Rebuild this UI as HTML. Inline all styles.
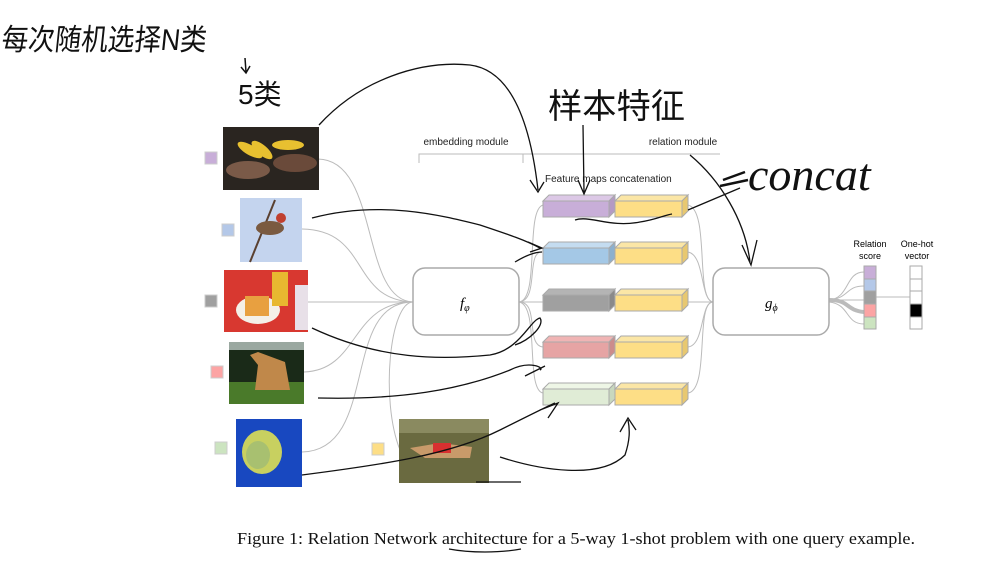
<!DOCTYPE html>
<html><head><meta charset="utf-8"><style>
html,body{margin:0;padding:0;background:#fff}
svg{display:block}
</style></head><body>
<svg width="982" height="571" viewBox="0 0 982 571" xmlns="http://www.w3.org/2000/svg" font-family="Liberation Sans, sans-serif">
<rect width="982" height="571" fill="#fff"/>
<!-- handwriting -->
<text x="6" y="50" font-family="Liberation Sans, Noto Sans CJK SC, sans-serif" font-size="30" fill="#111" textLength="205" lengthAdjust="spacingAndGlyphs" transform="skewX(-6)">每次随机选择N类</text>
<text x="238" y="104" font-family="Liberation Sans, Noto Sans CJK SC, sans-serif" font-size="28" fill="#111">5类</text>
<path d="M245 58 L246 72 M241 67 L246 73 L250 66" stroke="#111" fill="none" stroke-width="1.5"/>
<text x="548" y="118" font-family="Liberation Sans, Noto Sans CJK SC, sans-serif" font-size="34" fill="#111" textLength="137" lengthAdjust="spacingAndGlyphs">样本特征</text>
<text x="748" y="190" font-family="Liberation Serif, serif" font-style="italic" font-size="46" fill="#111">concat</text>
<path d="M723 180 L745 172 M720 186 L748 180" stroke="#111" stroke-width="2.5" fill="none"/>
<!-- headers -->
<text x="466" y="145" font-size="10" text-anchor="middle" fill="#222">embedding module</text>
<text x="683" y="145" font-size="10" text-anchor="middle" fill="#222">relation module</text>
<path d="M419 163 V154 H523 V163" stroke="#bbb" fill="none"/>
<path d="M523 163 V154 H720" stroke="#bbb" fill="none"/>
<text x="545" y="182" font-size="10" fill="#222">Feature maps concatenation</text>
<!-- gray connectors -->
<g stroke="#bbb" fill="none" stroke-width="1">
<path d="M318 159 C380 160 360 300 413 302"/>
<path d="M302 229 C370 230 350 300 413 302"/>
<path d="M308 302 H413"/>
<path d="M304 372 C360 370 350 302 413 302"/>
<path d="M302 452 C380 450 340 302 413 302"/>
<path d="M400 450 C380 400 390 302 413 302"/>
<path d="M519 302 H543"/>
<path d="M519 302 C540 300 525 210 543 205"/>
<path d="M519 302 C540 300 525 250 543 252"/>
<path d="M519 302 C540 302 525 345 543 347"/>
<path d="M519 302 C540 305 525 390 543 393"/>
<path d="M688 205 C710 210 695 300 713 302"/>
<path d="M688 252 C705 255 700 300 713 302"/>
<path d="M688 302 H713"/>
<path d="M688 347 C705 345 700 302 713 302"/>
<path d="M688 393 C710 390 695 302 713 302"/>
<path d="M829 300 C850 298 845 272 864 272"/>
<path d="M829 300 C850 298 845 286 864 286"/>
<path d="M829 300 H864"/>
<path d="M829 302 C850 304 845 324 864 324"/>
<path d="M876 297 H910"/>
</g>
<path d="M829 300 C850 300 845 310 864 312" stroke="#bbb" stroke-width="4" fill="none"/>
<!-- boxes -->
<rect x="413" y="268" width="106" height="67" rx="12" fill="#fff" stroke="#aaa" stroke-width="1.5"/>
<text x="460" y="308" font-family="Liberation Serif, serif" font-style="italic" font-size="15">f<tspan font-size="10" dy="3">φ</tspan></text>
<rect x="713" y="268" width="116" height="67" rx="12" fill="#fff" stroke="#aaa" stroke-width="1.5"/>
<text x="765" y="308" font-family="Liberation Serif, serif" font-style="italic" font-size="15">g<tspan font-size="10" dy="3">ϕ</tspan></text>
<!-- feature blocks -->
<g stroke="#aaa" stroke-width="1">
<polygon points="543,201 549,195 615,195 609,201" fill="#dcc8e6"/><rect x="543" y="201" width="66" height="16" fill="#c8aed8"/><polygon points="609,201 615,195 615,211 609,217" fill="#b49ac4"/>
<polygon points="615,201 621,195 688,195 682,201" fill="#fbe6a6"/><rect x="615" y="201" width="67" height="16" fill="#fdde86"/><polygon points="682,201 688,195 688,211 682,217" fill="#e8c870"/>
<polygon points="543,248 549,242 615,242 609,248" fill="#c4dcf0"/><rect x="543" y="248" width="66" height="16" fill="#a4c8e6"/><polygon points="609,248 615,242 615,258 609,264" fill="#8cb0ce"/>
<polygon points="615,248 621,242 688,242 682,248" fill="#fbe6a6"/><rect x="615" y="248" width="67" height="16" fill="#fdde86"/><polygon points="682,248 688,242 688,258 682,264" fill="#e8c870"/>
<polygon points="543,295 549,289 615,289 609,295" fill="#b4b4b4"/><rect x="543" y="295" width="66" height="16" fill="#a0a0a0"/><polygon points="609,295 615,289 615,305 609,311" fill="#8a8a8a"/>
<polygon points="615,295 621,289 688,289 682,295" fill="#fbe6a6"/><rect x="615" y="295" width="67" height="16" fill="#fdde86"/><polygon points="682,295 688,289 688,305 682,311" fill="#e8c870"/>
<polygon points="543,342 549,336 615,336 609,342" fill="#f0b4b4"/><rect x="543" y="342" width="66" height="16" fill="#e6a4a4"/><polygon points="609,342 615,336 615,352 609,358" fill="#cc8c8c"/>
<polygon points="615,342 621,336 688,336 682,342" fill="#fbe6a6"/><rect x="615" y="342" width="67" height="16" fill="#fdde86"/><polygon points="682,342 688,336 688,352 682,358" fill="#e8c870"/>
<polygon points="543,389 549,383 615,383 609,389" fill="#eef6e6"/><rect x="543" y="389" width="66" height="16" fill="#e0ecd6"/><polygon points="609,389 615,383 615,399 609,405" fill="#c8d8be"/>
<polygon points="615,389 621,383 688,383 682,389" fill="#fbe6a6"/><rect x="615" y="389" width="67" height="16" fill="#fdde86"/><polygon points="682,389 688,383 688,399 682,405" fill="#e8c870"/>
</g>
<!-- relation score / one-hot -->
<text x="870" y="247" font-size="9" text-anchor="middle">Relation</text>
<text x="870" y="259" font-size="9" text-anchor="middle">score</text>
<text x="917" y="247" font-size="9" text-anchor="middle">One-hot</text>
<text x="917" y="259" font-size="9" text-anchor="middle">vector</text>
<g stroke="#aaa">
<rect x="864" y="266" width="12" height="13" fill="#c8aed8"/><rect x="864" y="279" width="12" height="12" fill="#b4c8e8"/><rect x="864" y="291" width="12" height="13" fill="#a0a0a0"/><rect x="864" y="304" width="12" height="13" fill="#fca4a4"/><rect x="864" y="317" width="12" height="12" fill="#cce4c0"/>
<rect x="910" y="266" width="12" height="13" fill="#fff"/><rect x="910" y="279" width="12" height="12" fill="#fff"/><rect x="910" y="291" width="12" height="13" fill="#fff"/><rect x="910" y="304" width="12" height="13" fill="#000"/><rect x="910" y="317" width="12" height="12" fill="#fff"/>
</g>
<!-- color squares -->
<g stroke="#ccc">
<rect x="205" y="152" width="12" height="12" fill="#c8aed8"/>
<rect x="222" y="224" width="12" height="12" fill="#b4c8e8"/>
<rect x="205" y="295" width="12" height="12" fill="#a0a0a0"/>
<rect x="211" y="366" width="12" height="12" fill="#fca4a4"/>
<rect x="215" y="442" width="12" height="12" fill="#cce4c0"/>
<rect x="372" y="443" width="12" height="12" fill="#fdde86"/>
</g>
<!-- images -->
<rect x="223" y="127" width="96" height="63" fill="#2a2520"/>
<ellipse cx="250" cy="150" rx="14" ry="5" fill="#e8c030" transform="rotate(30 250 150)"/><ellipse cx="262" cy="150" rx="13" ry="5" fill="#e8c030" transform="rotate(40 262 150)"/><ellipse cx="288" cy="145" rx="16" ry="5" fill="#e8c030"/>
<ellipse cx="248" cy="170" rx="22" ry="9" fill="#7a5a48"/><ellipse cx="295" cy="163" rx="22" ry="9" fill="#6a4a3a"/>
<rect x="240" y="198" width="62" height="64" fill="#c4d4ee"/>
<path d="M250 262 L275 200" stroke="#5a4030" stroke-width="2"/>
<ellipse cx="270" cy="228" rx="14" ry="7" fill="#7a5a40"/><circle cx="281" cy="218" r="5" fill="#c04030"/>
<rect x="224" y="270" width="84" height="62" fill="#d83830"/>
<ellipse cx="258" cy="310" rx="22" ry="14" fill="#f4f0e8"/><rect x="245" y="296" width="24" height="20" fill="#e8a040"/><rect x="272" y="272" width="16" height="34" fill="#e8b830"/><rect x="295" y="285" width="13" height="45" fill="#e8e0e8"/>
<rect x="229" y="342" width="75" height="62" fill="#1a2a18"/><rect x="229" y="382" width="75" height="22" fill="#4a7a2a"/><rect x="229" y="342" width="75" height="8" fill="#9aa8a0"/>
<path d="M250 355 L258 352 L285 362 L290 390 L255 390 L258 365 Z" fill="#c0884a"/>
<rect x="236" y="419" width="66" height="68" fill="#1848c0"/>
<ellipse cx="262" cy="452" rx="20" ry="22" fill="#c8d060"/><ellipse cx="258" cy="455" rx="12" ry="14" fill="#a8c070"/>
<rect x="399" y="419" width="90" height="64" fill="#6a6a40"/><rect x="399" y="419" width="90" height="14" fill="#8a8a60"/>
<path d="M410 448 L440 443 L472 447 L470 458 L425 458 Z" fill="#c89a6a"/><rect x="433" y="443" width="18" height="10" fill="#d83030"/>
<!-- hand-drawn black strokes -->
<g stroke="#111" fill="none" stroke-width="1.3">
<path d="M319 125 C360 80 420 60 470 65 C510 70 530 120 538 190"/>
<path d="M530 180 L538 192 L544 182"/>
<path d="M583 125 L584 192 M578 180 L584 194 L590 180"/>
<path d="M312 218 C380 200 440 215 480 225 C510 235 525 240 540 248 M528 242 L542 248 L530 252"/>
<path d="M515 262 C525 256 535 252 542 252"/>
<path d="M312 328 C380 360 440 360 490 355 C520 350 530 320 540 318 C545 325 530 340 515 345"/>
<path d="M318 398 C400 400 460 390 510 370 C530 360 545 368 540 370 M525 376 L545 366"/>
<path d="M302 475 C380 465 450 455 500 430 C530 415 550 405 555 403 M540 410 L558 403 L548 418"/>
<path d="M500 457 C540 470 600 480 625 455 C630 440 630 430 628 420 M620 432 L628 418 L636 430"/>
<path d="M575 220 C590 215 610 228 640 222 C655 220 665 215 672 214"/>
<path d="M688 210 L740 188"/>
<path d="M690 155 C720 180 745 220 750 262 M742 245 L751 265 L757 240"/>
</g>
<path d="M476 482 H521" stroke="#111" stroke-width="1.3"/>
<path d="M449 549 C470 553 500 553 521 549" stroke="#111" stroke-width="1.3" fill="none"/>
<!-- caption -->
<text x="237" y="544" font-family="Liberation Serif, serif" font-size="17" fill="#111" textLength="678" lengthAdjust="spacingAndGlyphs">Figure 1: Relation Network architecture for a 5-way 1-shot problem with one query example.</text>
</svg>
</body></html>
